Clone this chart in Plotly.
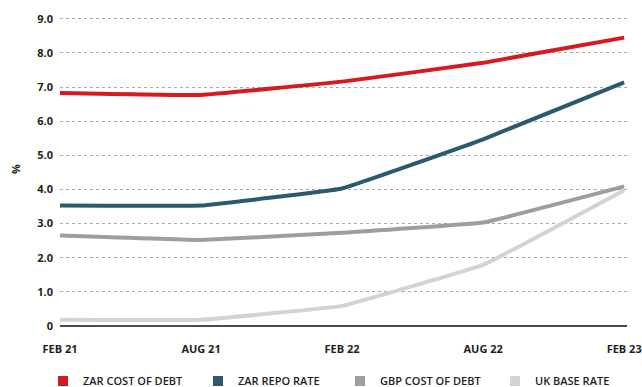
import plotly.graph_objects as go

periods = ["FEB 21", "AUG 21", "FEB 22", "AUG 22", "FEB 23"]
zar_cost_of_debt = [6.83, 6.77, 7.16, 7.71, 8.45]
zar_repo_rate = [3.53, 3.53, 4.03, 5.47, 7.14]
gbp_cost_of_debt = [2.65, 2.52, 2.73, 3.03, 4.09]
uk_base_rate = [0.18, 0.18, 0.59, 1.79, 3.98]

series_names = ["ZAR COST OF DEBT", "ZAR REPO RATE", "GBP COST OF DEBT", "UK BASE RATE"]
series_values = [zar_cost_of_debt, zar_repo_rate, gbp_cost_of_debt, uk_base_rate]
colors = ["#d71920", "#2a5a6c", "#9e9e9e", "#d3d3d3"]
legend_ids = ["legend", "legend2", "legend3", "legend4"]
legend_left_px = [43, 198, 340, 495]

y_ticks = [0, 1, 2, 3, 4, 5, 6, 7, 8, 9]
y_tick_text = ["0", "1.0", "2.0", "3.0", "4.0", "5.0", "6.0", "7.0", "8.0", "9.0"]

FONT = "Open Sans"
TXT = "#1e1e1e"
W, H = 642, 387

fig = go.Figure()
xs = list(range(len(periods)))
for name, vals, col, lid in zip(series_names, series_values, colors, legend_ids):
    fig.add_trace(go.Scatter(
        x=xs, y=vals, mode="lines", name=name,
        line=dict(color=col, width=4, shape="spline", smoothing=0.2),
        showlegend=False, hoverinfo="skip",
    ))
    fig.add_trace(go.Scatter(
        x=[None], y=[None], mode="markers", name=name, legend=lid,
        marker=dict(symbol="square", size=10, color=col),
        showlegend=True,
    ))

legend_style = dict(
    orientation="h", xref="container", yref="container",
    xanchor="left", y=6/H, yanchor="middle",
    font=dict(family=FONT, size=11, color=TXT, weight=600),
    itemclick=False, itemdoubleclick=False, bgcolor="rgba(0,0,0,0)",
)
legends = {lid: dict(legend_style, x=px / W) for lid, px in zip(legend_ids, legend_left_px)}

fig.update_layout(
    width=W, height=H,
    margin=dict(l=60, r=15, t=12, b=61, autoexpand=False),
    plot_bgcolor="white", paper_bgcolor="white",
    font=dict(family=FONT, size=11, color=TXT, weight=700),
    xaxis=dict(
        range=[0, 4.02], tickmode="array", tickvals=xs, ticktext=periods,
        showgrid=False, zeroline=False, showline=False,
        ticks="", ticklabelstandoff=15,
        tickfont=dict(family=FONT, size=11, color=TXT, weight=700),
    ),
    yaxis=dict(
        range=[0, 9.2], tickmode="array", tickvals=y_ticks, ticktext=y_tick_text,
        showgrid=True, gridcolor="#aaaaaa", griddash="dot", gridwidth=1,
        zeroline=True, zerolinecolor="#4a4a4a", zerolinewidth=2,
        showline=False, ticks="", ticklabelstandoff=6,
        tickfont=dict(family=FONT, size=11, color=TXT, weight=700),
        title=dict(text="%", standoff=14, font=dict(family=FONT, size=11, color=TXT)),
    ),
    **legends,
)

fig.write_html("out.html")
